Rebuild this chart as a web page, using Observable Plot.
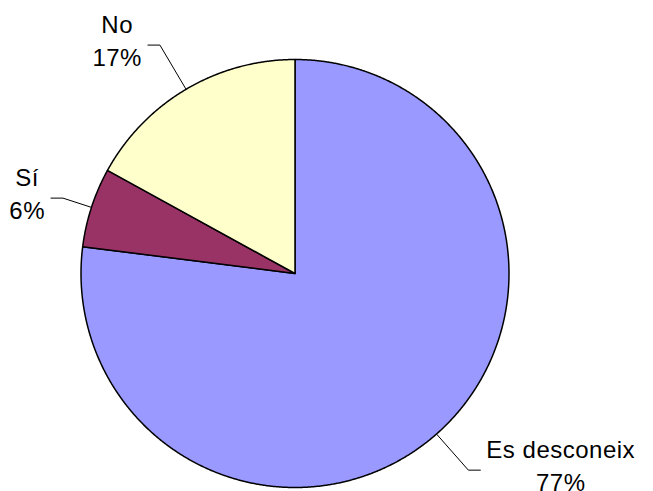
<!DOCTYPE html>
<html>
<head>
<meta charset="utf-8">
<script src="https://cdn.jsdelivr.net/npm/d3@7"></script>
<script src="https://cdn.jsdelivr.net/npm/@observablehq/plot@0.6"></script>
<style>
  html, body { margin: 0; padding: 0; background: #ffffff; }
  #chart svg { display: block; }
</style>
</head>
<body>
<div id="chart"></div>
<script>
// ---- data (clockwise from 12 o'clock) ----
const categories = ["Es desconeix", "Sí", "No"];
const values = [77, 6, 17];
const colors = ["#9999FF", "#993366", "#FFFFCC"];

// ---- layout settings ----
const W = 653, H = 491;
const center = [294.5, 273];
const radius = 214;
const leaderRadius = {"Es desconeix": 1.225, "Sí": 1.14, "No": 1.24};
const leaderTail = 12;       // px, horizontal part of leader
const labelGap = 6;          // px, between leader end and label
const fontSize = 24;
const letterSpacing = 0.5;
const fontFamily = "'Liberation Sans', Arial, sans-serif";

const total = d3.sum(values);
const rows = categories.map((c, i) => ({
  category: c, value: values[i], color: colors[i],
  label: c + "\n" + Math.round(values[i] / total * 100) + "%"
}));

const arcs = d3.pie().sort(null).value(d => d.value)(rows);
const pt = (a, r) => [r * Math.sin(a), -r * Math.cos(a)];

const slices = arcs.map(a => {
  const n = Math.max(2, Math.ceil((a.endAngle - a.startAngle) / 0.005));
  const ring = [[0, 0]];
  for (let k = 0; k <= n; ++k) ring.push(pt(a.startAngle + (a.endAngle - a.startAngle) * k / n, 1));
  ring.push([0, 0]);
  return {type: "Feature", properties: a.data, geometry: {type: "Polygon", coordinates: [ring]}};
});

const ctx = document.createElement("canvas").getContext("2d");
ctx.font = `${fontSize}px ${fontFamily}`;
const textWidth = s => ctx.measureText(s).width + letterSpacing * s.length;

const leaders = [];
const labels = [];
arcs.forEach(a => {
  const mid = (a.startAngle + a.endAngle) / 2;
  const side = Math.sin(mid) >= 0 ? 1 : -1;
  const p0 = pt(mid, 1);
  const p1 = pt(mid, leaderRadius[a.data.category]);
  const p2 = [p1[0] + side * leaderTail / radius, p1[1]];
  leaders.push({type: "Feature", properties: {}, geometry: {type: "LineString", coordinates: [p0, p1, p2]}});
  const maxW = d3.max(a.data.label.split("\n"), textWidth);
  labels.push({x: p2[0], y: p2[1], text: a.data.label, dx: side * (labelGap + maxW / 2)});
});

const projection = d3.geoIdentity().scale(radius).translate(center);

const chart = Plot.plot({
  width: W,
  height: H,
  margin: 0,
  projection,
  style: {background: "#ffffff", fontFamily, fontSize: fontSize + "px", letterSpacing: letterSpacing + "px"},
  marks: [
    Plot.geo(leaders, {stroke: "#000000", strokeWidth: 1, fill: "none"}),
    Plot.geo(slices, {fill: d => d.properties.color, stroke: "#000000", strokeWidth: 1.5, strokeLinejoin: "round"}),
    ...labels.map(l => Plot.text([l], {
      x: "x", y: "y", text: "text", dx: l.dx, dy: -6,
      textAnchor: "middle", lineAnchor: "middle", lineHeight: 1.35,
      fill: "#000000", fontSize
    }))
  ]
});
document.getElementById("chart").appendChild(chart);
</script>
</body>
</html>
